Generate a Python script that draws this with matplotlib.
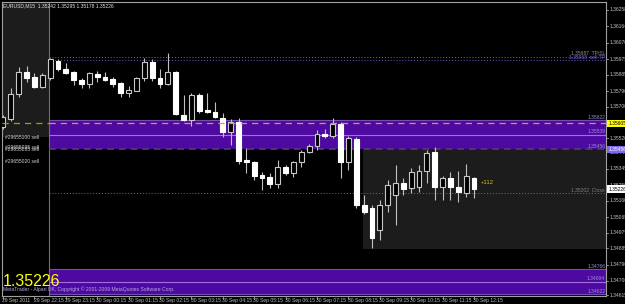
import matplotlib
matplotlib.use('Agg')
import matplotlib.pyplot as plt
from matplotlib.patches import Rectangle
import matplotlib.transforms as mtrans

# EURUSD M15 bars, 29 Sep 21:15 .. 30 Sep 12:15
opens = [1.35584, 1.35630, 1.35774, 1.35901, 1.35872, 1.35814, 1.35866, 1.35964, 1.35918, 1.35901,
         1.35855, 1.35832, 1.35889, 1.35872, 1.35860, 1.35837, 1.35780, 1.35791, 1.35866, 1.35958,
         1.35866, 1.35832, 1.35901, 1.35653, 1.35624, 1.35768, 1.35682, 1.35670, 1.35636, 1.35556,
         1.35613, 1.35394, 1.35383, 1.35308, 1.35297, 1.35256, 1.35354, 1.35320, 1.35383, 1.35440,
         1.35475, 1.35544, 1.35533, 1.35602, 1.35383, 1.35515, 1.35135, 1.35118, 1.34991, 1.35135,
         1.35193, 1.35262, 1.35233, 1.35239, 1.35331, 1.35440, 1.35239, 1.35291, 1.35239, 1.35204,
         1.35291]
highs = [1.35653, 1.35809, 1.35930, 1.35935, 1.35895, 1.35895, 1.35981, 1.35976, 1.35953, 1.35907,
         1.35866, 1.35901, 1.35907, 1.35901, 1.35872, 1.35843, 1.35820, 1.35872, 1.35981, 1.35976,
         1.35918, 1.36010, 1.35907, 1.35768, 1.35780, 1.35780, 1.35780, 1.35728, 1.35665, 1.35630,
         1.35636, 1.35463, 1.35389, 1.35325, 1.35320, 1.35394, 1.35366, 1.35389, 1.35452, 1.35487,
         1.35567, 1.35573, 1.35636, 1.35613, 1.35533, 1.35527, 1.35193, 1.35135, 1.35164, 1.35279,
         1.35366, 1.35291, 1.35348, 1.35366, 1.35452, 1.35469, 1.35302, 1.35325, 1.35331, 1.35371,
         1.35295]
lows = [1.35573, 1.35619, 1.35757, 1.35843, 1.35809, 1.35809, 1.35855, 1.35907, 1.35889, 1.35826,
        1.35809, 1.35809, 1.35843, 1.35849, 1.35814, 1.35757, 1.35757, 1.35791, 1.35849, 1.35849,
        1.35809, 1.35826, 1.35653, 1.35619, 1.35590, 1.35665, 1.35665, 1.35636, 1.35527, 1.35481,
        1.35371, 1.35320, 1.35279, 1.35222, 1.35233, 1.35233, 1.35308, 1.35297, 1.35354, 1.35435,
        1.35452, 1.35521, 1.35521, 1.35291, 1.35337, 1.35118, 1.35083, 1.34887, 1.34934, 1.35095,
        1.35020, 1.35193, 1.35204, 1.35210, 1.35262, 1.35164, 1.35164, 1.35164, 1.35152, 1.35181,
        1.35178]
closes = [1.35642, 1.35774, 1.35901, 1.35866, 1.35814, 1.35884, 1.35976, 1.35918, 1.35895, 1.35855,
          1.35832, 1.35895, 1.35872, 1.35855, 1.35832, 1.35780, 1.35797, 1.35866, 1.35958, 1.35866,
          1.35832, 1.35901, 1.35659, 1.35624, 1.35768, 1.35676, 1.35670, 1.35642, 1.35556, 1.35613,
          1.35389, 1.35383, 1.35302, 1.35291, 1.35256, 1.35354, 1.35320, 1.35383, 1.35440, 1.35475,
          1.35544, 1.35533, 1.35602, 1.35383, 1.35521, 1.35135, 1.35095, 1.34945, 1.35135, 1.35250,
          1.35262, 1.35227, 1.35325, 1.35331, 1.35435, 1.35239, 1.35291, 1.35239, 1.35210, 1.35302,
          1.35226]

price_ticks = [1.36258, 1.36164, 1.36070, 1.35975, 1.35885, 1.35790, 1.35700, 1.35605, 1.35520,
               1.35440, 1.35345, 1.35250, 1.35160, 1.35065, 1.34975, 1.34885, 1.34790, 1.34700, 1.34615]
time_labels = ['29 Sep 2011', '29 Sep 22:15', '29 Sep 23:15', '30 Sep 00:15', '30 Sep 01:15',
               '30 Sep 02:15', '30 Sep 03:15', '30 Sep 04:15', '30 Sep 05:15', '30 Sep 06:15',
               '30 Sep 07:15', '30 Sep 08:15', '30 Sep 09:15', '30 Sep 10:15', '30 Sep 11:15',
               '30 Sep 12:15']
time_label_bars = [0, 4, 8, 12, 16, 20, 24, 28, 32, 36, 40, 44, 48, 52, 56, 60]

band1 = (1.35456, 1.35539, 1.35622)
band2 = (1.34622, 1.34694, 1.34766)
yellow_level = 1.35605
tp_grey = 1.35987
tp_purple = 1.35970
close_level = 1.35202
bid = 1.35226
order_labels = ['#29655100 sell', '#29655095 sell', '#29655085 sell', '#29655020 sell']
order_prices = [1.35521, 1.35468, 1.35452, 1.35383]

W, H = 625, 304
fig = plt.figure(figsize=(W / 100, H / 100), dpi=100, facecolor='black')
ax = fig.add_axes([2 / W, 8 / H, 604 / W, 294 / H])
ax.set_facecolor('black')
for s in ax.spines.values():
    s.set_color('#a0a0a0')
    s.set_linewidth(0.8)
ax.set_xticks([])
ax.set_yticks([])

px = 7.85  # pixels per bar
x0 = -1 / px
x1 = x0 + 604 / px
ymin, ymax = 1.34611, 1.36304
ax.set_xlim(x0, x1)
ax.set_ylim(ymin, ymax)

sep_x = 46 / px  # vertical line at x=48px
rect_x = 360 / px

# shaded rectangles
ax.add_patch(Rectangle((x0, 1.35527), sep_x - x0, ymax - 1.35527, facecolor='#1c1c1c', edgecolor='none', zorder=0))
ax.add_patch(Rectangle((rect_x, 1.34881), x1 - rect_x, band1[0] - 1.34881, facecolor='#1c1c1c', edgecolor='none', zorder=0))

# purple bands
for lo, mid, hi in [band1, band2]:
    ax.add_patch(Rectangle((sep_x, lo), x1 - sep_x, hi - lo, facecolor='#4e0aa0', edgecolor='none', zorder=1))
    ax.hlines(mid, sep_x, x1, color='#a070e0', lw=0.8, zorder=2)
    ax.hlines(hi, sep_x, x1, color='#7050b0', lw=0.8, zorder=2)
ax.hlines(band1[0], sep_x, x1, color='#504070', lw=1.2, linestyles=(0, (4, 3)), zorder=2)
ax.hlines(band2[0], sep_x, x1, color='#7050b0', lw=0.8, zorder=2)

ax.axvline(sep_x, color='#707070', lw=0.8, zorder=1)

# dotted levels
ax.hlines(tp_grey, sep_x, x1, color='#707070', lw=0.7, linestyles=(0, (1, 2)), zorder=2)
ax.hlines(tp_purple, sep_x, x1, color='#6a5acd', lw=0.7, linestyles=(0, (1, 2)), zorder=2)
ax.hlines(close_level, sep_x, x1, color='#707070', lw=0.7, linestyles=(0, (1, 2)), zorder=2)

# candles
idx = list(range(len(opens)))
up = [i for i in idx if closes[i] >= opens[i]]
dn = [i for i in idx if closes[i] < opens[i]]
ax.vlines(idx, lows, highs, color='#c0c0c0', lw=0.8, zorder=3)
ax.bar(up, [closes[i] - opens[i] for i in up], bottom=[opens[i] for i in up], width=0.62,
       facecolor='black', edgecolor='#c8c8c8', lw=0.8, zorder=4)
ax.bar(dn, [opens[i] - closes[i] for i in dn], bottom=[closes[i] for i in dn], width=0.62,
       facecolor='white', edgecolor='white', lw=0.8, zorder=4)

# yellow dashed level
ax.hlines(yellow_level, x0, sep_x, color='#a0a000', lw=0.9, linestyles=(0, (5, 4)), zorder=5)
ax.hlines(yellow_level, sep_x, x1, color='#d4a020', lw=0.9, linestyles=(0, (5, 4)), zorder=5)

# line labels at right edge
fs = 3.6
fn = 'Liberation Sans'
xr = x1 - 0.1
ax.text(xr, tp_grey + 0.00004, '1.35987  TP/SL', color='#909090', fontsize=fs, family=fn, ha='right', va='bottom', zorder=6)
ax.text(xr, tp_purple + 0.00001, '1.35968  sell TP', color='#7b68ee', fontsize=fs, family=fn, ha='right', va='bottom', zorder=6)
ax.text(xr, close_level + 0.00003, '1.35202  Close', color='#808080', fontsize=fs, family=fn, ha='right', va='bottom', zorder=6)
for v in band1 + band2:
    ax.text(xr, v + 0.00003, '%.5f' % v, color='#9a88d8', fontsize=fs, family=fn, ha='right', va='bottom', zorder=6)

for lab, p in zip(order_labels, order_prices):
    ax.text(0.2, p, lab, color='#d0d0d0', fontsize=fs, family=fn, ha='left', va='center', zorder=6)

ax.text(60.8, 1.35262, '+112', color='#d4c000', fontsize=4.2, family=fn, ha='left', va='center', zorder=6)

ax.text(0.5 / 625 * 0 + 0.002, 0.995, 'EURUSD,M15  1.35242 1.35295 1.35178 1.35226', transform=ax.transAxes,
        color='#e0e0e0', fontsize=fs, family=fn, ha='left', va='top', zorder=6)
ax.text(0.002, 0.012, 'MetaTrader - Alpari UK, Copyright \u00a9 2001-2009 MetaQuotes Software Corp.',
        transform=ax.transAxes, color='#b8a8e0', fontsize=fs, family=fn, ha='left', va='bottom', zorder=6)
ax.text(0.001, 0.025, '1.35226', transform=ax.transAxes, color='#ffff00', fontsize=11.5, family=fn,
        ha='left', va='bottom', zorder=7)

# right price scale
tr_r = mtrans.blended_transform_factory(ax.transAxes, ax.transData)
for p in price_ticks:
    ax.plot([1.0, 1.004], [p, p], color='#a0a0a0', lw=0.6, transform=tr_r, clip_on=False)
    ax.text(1.006, p, '%.5f' % p, color='#c0c0c0', fontsize=fs, family=fn, ha='left', va='center',
            transform=tr_r, clip_on=False)
for p, txt, fc, tc in [(yellow_level, '1.35605', '#ffff00', 'black'),
                       (band1[0], '1.35456', '#7b68ee', 'white'),
                       (bid, '1.35226', 'white', 'black')]:
    ax.text(1.004, p, txt, color=tc, fontsize=fs, family=fn, ha='left', va='center', transform=tr_r,
            clip_on=False, bbox=dict(boxstyle='square,pad=0.25', fc=fc, ec='none'), zorder=8)

# bottom time scale
tr_b = mtrans.blended_transform_factory(ax.transData, ax.transAxes)
for b, lab in zip(time_label_bars, time_labels):
    ax.plot([b, b], [0.0, -0.01], color='#a0a0a0', lw=0.6, transform=tr_b, clip_on=False)
    ax.text(b - 0.1, -0.006, lab, color='#c0c0c0', fontsize=fs, family=fn, ha='left', va='top',
            transform=tr_b, clip_on=False)

fig.savefig('out.png', dpi=100, facecolor='black')
